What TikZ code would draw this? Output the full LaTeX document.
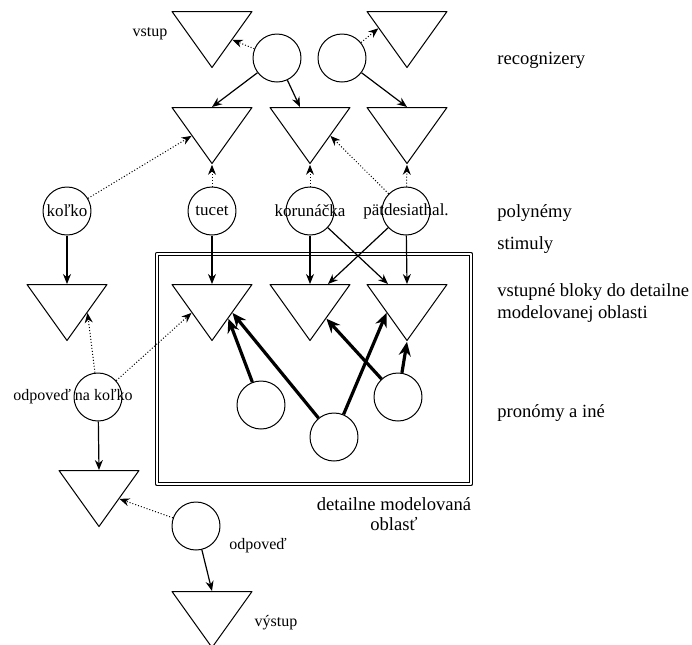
\documentclass[tikz,border=0pt]{standalone}
\usepackage{fontspec}
\setmainfont{Liberation Serif}
\usetikzlibrary{arrows.meta,shapes.geometric,calc}

\begin{document}
\begin{tikzpicture}[
  x=0.5pt,y=-0.5pt,
  line join=round,
  >={Stealth[length=5pt,width=4pt]},
  small/.style={font=\fontsize{8}{9.5}\selectfont},
  unit/.style={draw,circle,line width=0.5pt,minimum size=24pt,inner sep=0pt},
  tag/.style={label={[font=\fontsize{8.5}{10}\selectfont,inner sep=0pt]center:#1}},
  blok/.style={draw,isosceles triangle,shape border rotate=270,
    isosceles triangle stretches,minimum width=40pt,minimum height=28pt,
    inner sep=0pt,line width=0.5pt,anchor=lower side},
  link/.style={->,line width=0.6pt},
  weak/.style={->,densely dotted,line width=0.5pt},
  strong/.style={-{Stealth[length=7pt,width=6pt]},line width=1.6pt},
  area/.style={draw,double,double distance=1.4pt,line width=0.5pt,inner sep=0pt},
  side/.style={font=\fontsize{9.3}{11}\selectfont,anchor=west,align=left,inner sep=0pt}
]
\useasboundingbox (0,0) rectangle (692,644);

% recognizers
\node[blok] (inp)   at (212,11) {};
\node[blok] (recR)  at (407,11) {};
\node[unit] (rcA)   at (277,58) {};
\node[unit] (rcB)   at (342,58) {};
\node[blok] (rec1)  at (212,107) {};
\node[blok] (rec2)  at (310,107) {};
\node[blok] (rec3)  at (407,107) {};

% polysemes
\node[unit,tag={koľko}]          (kolko) at (67,211) {};
\node[unit,tag={tucet}]          (tucet) at (212,211) {};
\node[unit,tag={korunáčka}]      (korun) at (310,211) {};
\node[unit,tag={pätdesiathal.}]  (patd)  at (406,211) {};

% input blocks
\node[blok] (bKol) at (67,284) {};
\node[blok] (b1)   at (212,284) {};
\node[blok] (b2)   at (310,284) {};
\node[blok] (b3)   at (407,284) {};

% detailed region
\node[area,minimum width=157pt,minimum height=115pt] (region) at (314,369) {};
\node[unit] (pr1) at (261,405) {};
\node[unit] (pr2) at (334,437) {};
\node[unit] (pr3) at (398,397) {};

% answers
\node[unit,label={[small,inner sep=0pt,xshift=-12.5pt]center:{odpoveď na koľko}}] (ansK) at (98,397) {};
\node[blok] (bAns) at (99,470) {};
\node[unit] (ans)  at (196,526) {};
\node[blok] (out)  at (212,591) {};

% texts
\node[small] (tIn)  at (150,34) {vstup};
\node[small] (tAns) at (258,546) {odpoveď};
\node[small] (tOut) at (276,623) {výstup};
\node[font=\fontsize{9.3}{10}\selectfont,align=center] (tReg) at (394,514)
  {detailne modelovaná\\oblasť};
\node[side] (tRec)  at (497,60)  {recognizery};
\node[side] (tPol)  at (497,213) {polynémy};
\node[side] (tStim) at (497,245) {stimuly};
\node[side] (tBlk)  at (497,303) {vstupné bloky do detailne\\modelovanej oblasti};
\node[side] (tPro)  at (497,413) {pronómy a iné};

% connections
\draw[weak] (rcA) -- (inp.left side);
\draw[link] (rcA) -- (rec1.lower side);
\draw[link] (rcA) -- ([xshift=-5pt]rec2.lower side);
\draw[weak] (rcB) -- ($(recR.right corner)!0.3!(recR.apex)$);
\draw[link] (rcB) -- (rec3.lower side);

\draw[weak] (kolko) -- (rec1.right side);
\draw[weak] (tucet) -- (rec1.apex);
\draw[weak] (korun) -- (rec2.apex);
\draw[weak] (patd)  -- (rec2.left side);
\draw[weak] (patd)  -- (rec3.apex);

\draw[link] (kolko) -- (bKol.lower side);
\draw[link] (tucet) -- (b1.lower side);
\draw[link] (korun) -- (b2.lower side);
\draw[link] (korun) -- ([xshift=-9.5pt]b3.lower side);
\draw[link] (patd)  -- ([xshift=9pt]b2.lower side);
\draw[link] (patd)  -- (b3.lower side);

\draw[strong] (pr1) -- ($(b1.left corner)!0.6!(b1.apex)$);
\draw[strong] (pr2) -- (b1.left side);
\draw[strong] (pr2) -- (b3.right side);
\draw[strong] (pr3) -- ($(b2.left corner)!0.6!(b2.apex)$);
\draw[strong] (pr3) -- (b3.apex);

\draw[weak] (ansK) -- (bKol.left side);
\draw[weak] (ansK) -- (b1.right side);
\draw[link] (ansK) -- (bAns.lower side);
\draw[weak] (ans)  -- (bAns.left side);
\draw[link] (ans)  -- (out.lower side);
\end{tikzpicture}
\end{document}
